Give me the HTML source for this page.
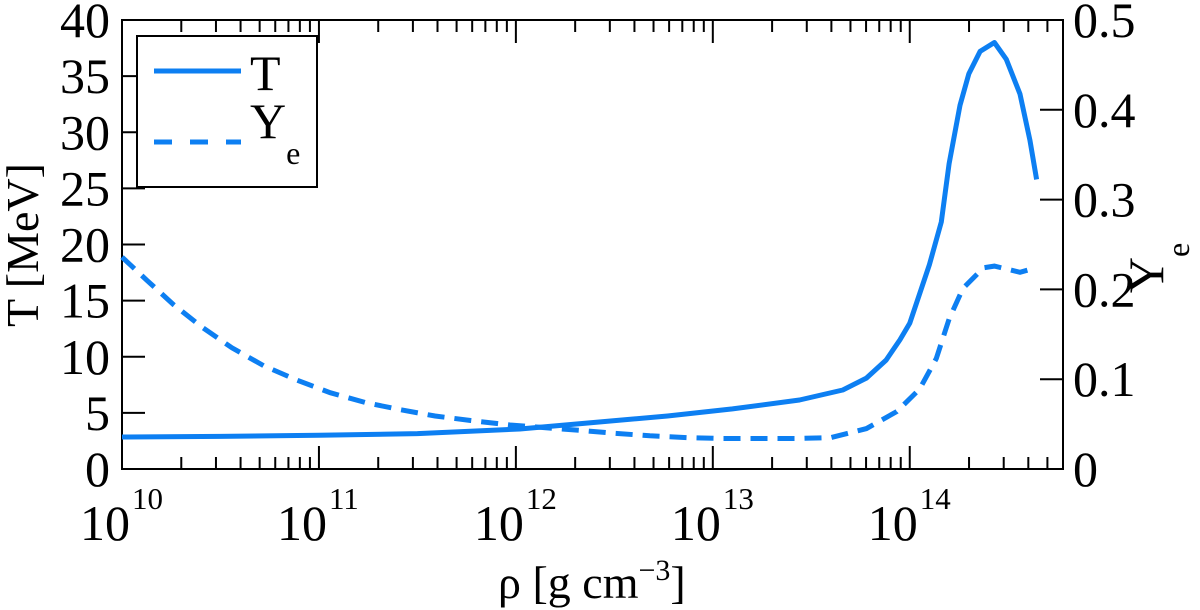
<!DOCTYPE html>
<html><head><meta charset="utf-8"><style>
body{margin:0;background:#fff;}
svg{display:block;font-family:"Liberation Serif",serif;}
</style></head><body>
<svg id="chart" width="1200" height="610" viewBox="0 0 1200 610" xmlns="http://www.w3.org/2000/svg">
<g id="axes"></g>
<g id="series"></g>
<g>
  <rect x="137" y="36" width="180" height="151" fill="#fff" stroke="#000" stroke-width="2"/>
  <line x1="154" y1="71" x2="241" y2="71" stroke="#0d7ff2" stroke-width="5"/>
  <text x="250" y="90" font-size="50">T</text>
  <line x1="154" y1="142" x2="241" y2="142" stroke="#0d7ff2" stroke-width="5" stroke-dasharray="18 18"/>
  <text x="250" y="138" font-size="50">Y<tspan font-size="32" dy="26">e</tspan></text>
</g>
<text x="498" y="598" font-size="46">ρ [g cm<tspan font-size="30" dy="-18">−3</tspan><tspan dy="18">]</tspan></text>
<text transform="translate(38,245) rotate(-90)" text-anchor="middle" font-size="46">T [MeV]</text>
<text transform="translate(1163,268) rotate(-90)" text-anchor="middle" font-size="50">Y<tspan font-size="32" dy="26">e</tspan></text>
</svg>
<script>
// data
const tLogRho = [10,10.5,11,11.5,12.02,12.43,12.77,13.1,13.44,13.66,13.78,13.88,13.95,14.0,14.10,14.16,14.20,14.255,14.30,14.357,14.43,14.49,14.56,14.61,14.644];
const tValues = [2.85,2.9,3.0,3.15,3.56,4.2,4.72,5.35,6.15,7.04,8.1,9.7,11.5,13.0,18.2,22,27.2,32.4,35.2,37.2,38.0,36.5,33.4,29.3,25.8];
const yeLogRho = [10,10.127,10.262,10.406,10.558,10.719,10.888,11.057,11.235,11.413,11.59,11.77,11.97,12.326,12.49,12.68,12.87,13.05,13.24,13.42,13.6,13.78,13.934,14.05,14.135,14.20,14.27,14.374,14.43,14.56,14.64];
const yeValues = [0.236,0.21,0.183,0.158,0.135,0.115,0.099,0.085,0.074,0.066,0.059,0.054,0.049,0.043,0.040,0.037,0.035,0.034,0.034,0.034,0.035,0.045,0.064,0.089,0.123,0.167,0.201,0.224,0.226,0.219,0.224];
const xDecades = [10,11,12,13,14];
const tTicks = [0,5,10,15,20,25,30,35,40];
const yeTicks = ["0","0.1","0.2","0.3","0.4","0.5"];

const L=122,R=1063,T=20,B=469;
const XMIN=10, XMAX=Math.log10(6e14);
const x = v => L + (v-XMIN)/(XMAX-XMIN)*(R-L);
const yT = v => B - v/40*(B-T);
const yY = v => B - v/0.5*(B-T);
const NS="http://www.w3.org/2000/svg";
const axes=document.getElementById('axes'), ser=document.getElementById('series');
function mk(tag, attrs, parent){const e=document.createElementNS(NS,tag);for(const k in attrs)e.setAttribute(k,attrs[k]);parent.appendChild(e);return e;}

let frame=mk('rect',{x:L,y:T,width:R-L,height:B-T,fill:'none',stroke:'#000','stroke-width':2},axes);



for(let d=XMIN; d<XMAX; d++){
  for(let m=1;m<10;m++){
    const lv=d+Math.log10(m); if(lv>XMAX) break;
    const xx=x(lv), len = m===1?23:12;
    let tb=mk('line',{x1:xx,y1:B,x2:xx,y2:B-len,stroke:'#000','stroke-width':2},axes);
    
    
    let tt=mk('line',{x1:xx,y1:T,x2:xx,y2:T+len,stroke:'#000','stroke-width':2},axes);
    
    
  }
}
xDecades.forEach(d=>{
  const xx=x(d);
  const t=mk('text',{x:xx+8,y:540,'font-size':50,'text-anchor':'end'},axes);
  t.textContent='10';
  
  
  const s=mk('text',{x:xx+10,y:509,'font-size':31},axes);
  s.textContent=String(d);
  
  
});
tTicks.forEach(v=>{
  const yy=yT(v);
  const l=mk('line',{x1:L,y1:yy,x2:L+23,y2:yy,stroke:'#000','stroke-width':2},axes);
  
  
  const t=mk('text',{x:110,y:yy+17,'font-size':50,'text-anchor':'end'},axes);
  t.textContent=String(v);
  
  
});
yeTicks.forEach(v=>{
  const yy=yY(parseFloat(v));
  const l=mk('line',{x1:R,y1:yy,x2:R-23,y2:yy,stroke:'#000','stroke-width':2},axes);
  
  
  const t=mk('text',{x:1073,y:yy+17,'font-size':50},axes);
  t.textContent=v;
  
  
});

function pts(xs,ys,fy){return xs.map((v,i)=>x(v).toFixed(1)+','+fy(ys[i]).toFixed(1)).join(' ');}
const pT=mk('polyline',{points:pts(tLogRho,tValues,yT),fill:'none',stroke:'#0d7ff2','stroke-width':5,'stroke-linejoin':'round'},ser);


const pY=mk('polyline',{points:pts(yeLogRho,yeValues,yY),fill:'none',stroke:'#0d7ff2','stroke-width':5,'stroke-dasharray':'17 10'},ser);


</script>
</body></html>
